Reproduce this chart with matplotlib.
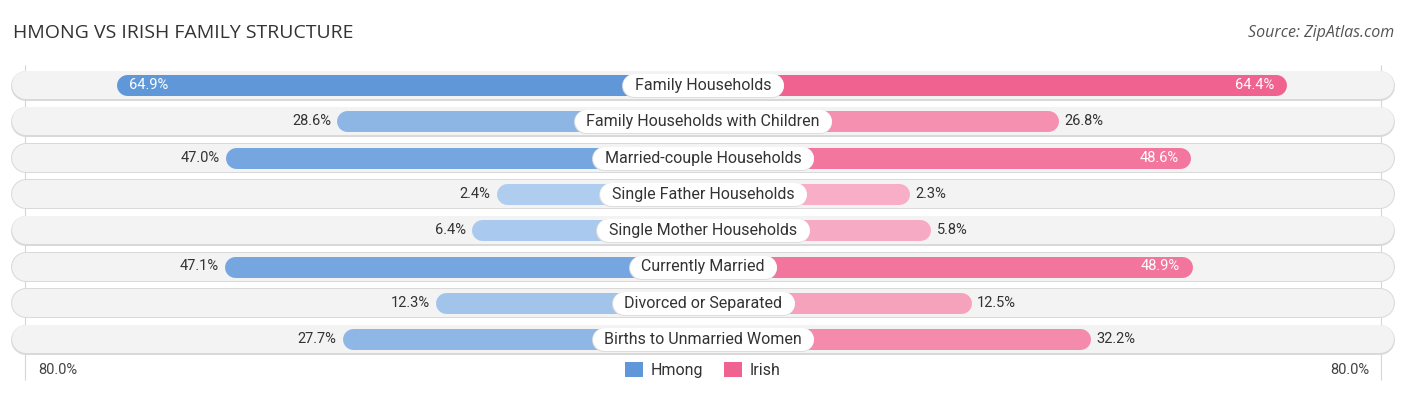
import matplotlib
matplotlib.use("Agg")
import matplotlib.pyplot as plt
from matplotlib.patches import Patch
from matplotlib.colors import to_rgb

# ---------------- data ----------------
categories = ["Family Households", "Family Households with Children",
              "Married-couple Households", "Single Father Households",
              "Single Mother Households", "Currently Married",
              "Divorced or Separated", "Births to Unmarried Women"]
hmong = [64.9, 28.6, 47.0, 2.4, 6.4, 47.1, 12.3, 27.7]
irish = [64.4, 26.8, 48.6, 2.3, 5.8, 48.9, 12.5, 32.2]
series_names = ["Hmong", "Irish"]
axis_max = 80.0
title = "HMONG VS IRISH FAMILY STRUCTURE"
source = "Source: ZipAtlas.com"

# ---------------- layout ----------------
W, H = 1406, 395
S = 6.07        # px per percent
OFF = 31.7      # hidden base under the centre label (percent units)
PT = 0.72       # points per px at dpi 100

blue_dark, blue_light = "#5f97d8", "#b2cff0"
pink_dark, pink_light = "#f06290", "#f8b1c8"
FONT = "Roboto"


def px(p):
    return p / S


def blend(light, dark, t):
    l, d = to_rgb(light), to_rgb(dark)
    return tuple(a + (b - a) * t for a, b in zip(l, d))


fig = plt.figure(figsize=(W / 100, H / 100), dpi=100)
ax = fig.add_axes([0, 0, 1, 1])
ax.set_xlim(-W / 2 / S, W / 2 / S)
ax.set_ylim(H, 0)
ax.axis("off")

row_y = [85 + i * 36.3 for i in range(len(categories))]
vmax = max(hmong + irish)

# grid lines at +/- axis max
gx = OFF + axis_max
ax.vlines([-gx, gx], 65, 380, color="#d5d5d5", lw=0.8, zorder=0)

track_half = px(691)
for y in row_y:
    ax.plot([-track_half + px(14.5), track_half - px(14.5)], [y + 0.6, y + 0.6],
            lw=30 * PT, color="#d9d9d9", solid_capstyle="round", zorder=1)
    ax.plot([-track_half + px(14.5), track_half - px(14.5)], [y, y],
            lw=28 * PT, color="#f3f3f3", solid_capstyle="round", zorder=1.1)

r_bar = px(10.5)
for i, (cat, hv, iv) in enumerate(zip(categories, hmong, irish)):
    y = row_y[i]
    hx = OFF + hv
    ix = OFF + iv
    ch = blend(blue_light, blue_dark, hv / vmax)
    ci = blend(pink_light, pink_dark, iv / vmax)
    ax.plot([0, -(hx - r_bar)], [y, y], lw=21 * PT, color=ch,
            solid_capstyle="round", zorder=2)
    ax.plot([0, (ix - r_bar)], [y, y], lw=21 * PT, color=ci,
            solid_capstyle="round", zorder=2)
    # value labels
    if hv > 48:
        ax.text(-hx + px(12), y, f"{hv:.1f}%", ha="left", va="center",
                color="white", fontsize=10.5, family=FONT, zorder=6)
    else:
        ax.text(-hx - px(6), y, f"{hv:.1f}%", ha="right", va="center",
                color="#333333", fontsize=10.5, family=FONT, zorder=6)
    if iv > 48:
        ax.text(ix - px(12), y, f"{iv:.1f}%", ha="right", va="center",
                color="white", fontsize=10.5, family=FONT, zorder=6)
    else:
        ax.text(ix + px(6), y, f"{iv:.1f}%", ha="left", va="center",
                color="#333333", fontsize=10.5, family=FONT, zorder=6)

labels = []
for i, cat in enumerate(categories):
    t = ax.text(0, row_y[i] + 0.5, cat, ha="center", va="center", color="#333333",
                fontsize=11.5, family=FONT, zorder=8)
    labels.append(t)

fig.canvas.draw()
renderer = fig.canvas.get_renderer()
for i, t in enumerate(labels):
    bb = t.get_window_extent(renderer)
    half = px(bb.width / 2 + 12 - 11.5)
    y = row_y[i]
    ax.plot([-half, half], [y + 1, y + 1], lw=24 * PT, color="#dddddd",
            solid_capstyle="round", zorder=6.5)
    ax.plot([-half, half], [y, y], lw=23 * PT, color="white",
            solid_capstyle="round", zorder=7)

# axis labels
ax.text(px(38 - 703), 370, f"{axis_max:.1f}%", ha="left", va="center",
        color="#444444", fontsize=10.5, family=FONT)
ax.text(px(1369 - 703), 370, f"{axis_max:.1f}%", ha="right", va="center",
        color="#444444", fontsize=10.5, family=FONT)

# legend
handles = [Patch(facecolor=blue_dark, label=series_names[0]),
           Patch(facecolor=pink_dark, label=series_names[1])]
leg = fig.legend(handles=handles, loc="center", bbox_to_anchor=(0.5, 1 - 370 / H),
                 ncol=2, frameon=False, prop={"family": FONT, "size": 11.5},
                 handlelength=1.1, handleheight=1.1, columnspacing=1.3,
                 handletextpad=0.5)
for txt in leg.get_texts():
    txt.set_color("#333333")

fig.text(13 / W, 1 - 33 / H, title, ha="left", va="center", fontsize=14,
         color="#333333", family="Open Sans")
fig.text(1394 / W, 1 - 33 / H, source, ha="right", va="center", fontsize=11.5,
         color="#555555", style="italic", family="Open Sans")

fig.savefig("out.png", dpi=100)
